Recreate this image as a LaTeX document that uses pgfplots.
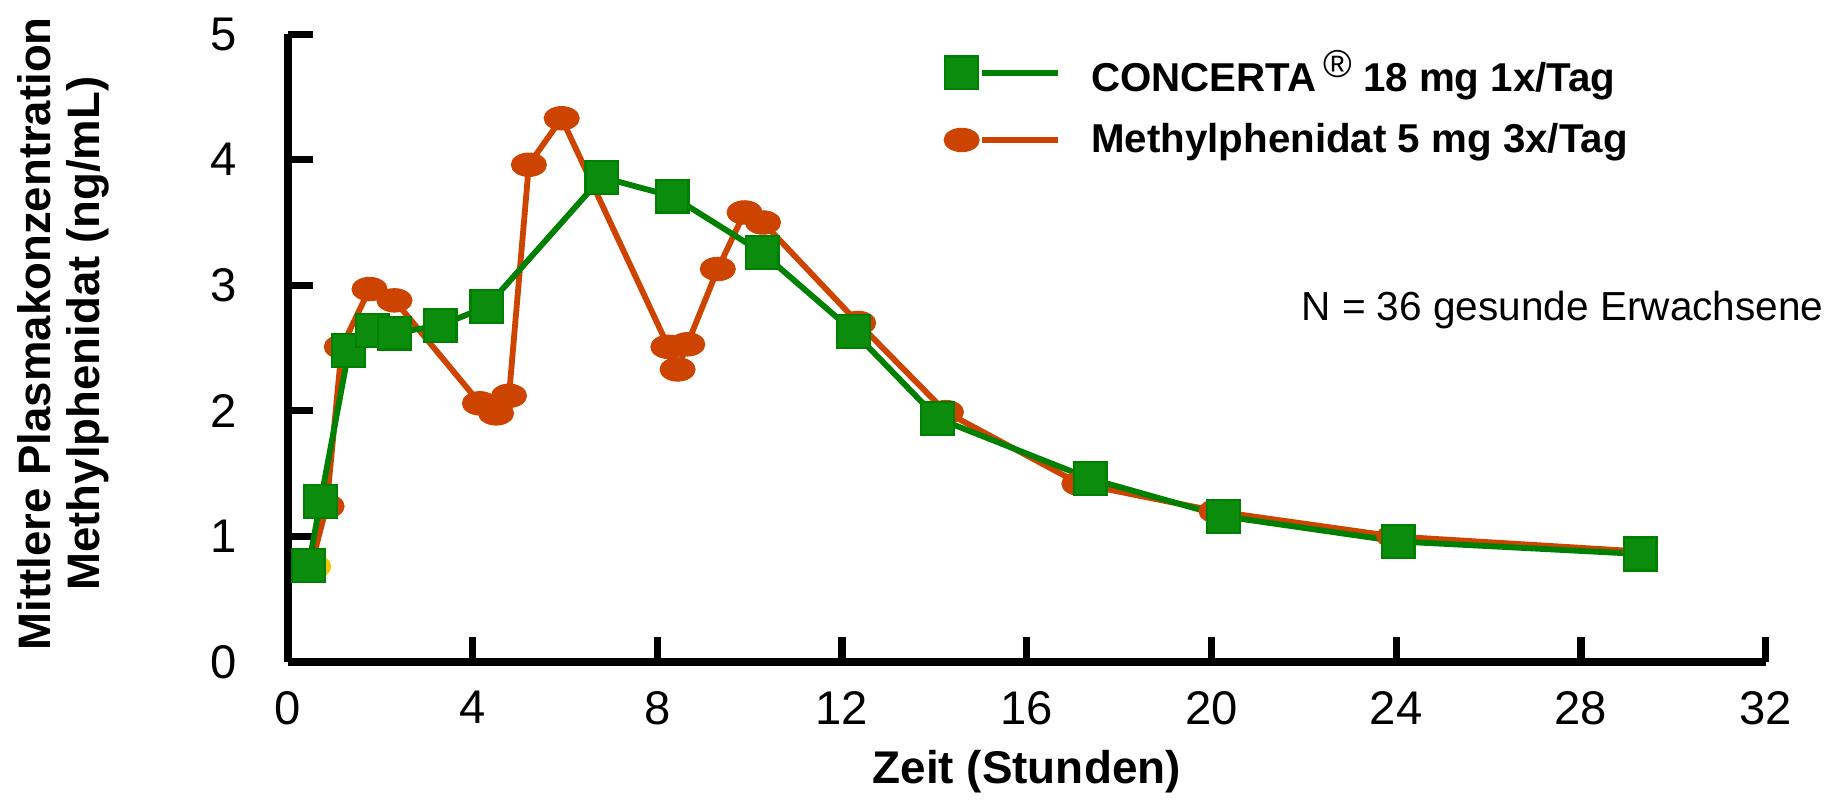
\documentclass[border=0pt]{standalone}
\usepackage{fontspec}
\setmainfont{Liberation Sans}
\usepackage{pgfplots}
\pgfplotsset{compat=1.18}
\definecolor{cgreen}{RGB}{0,128,0}
\definecolor{cgreenfill}{RGB}{12,140,12}
\definecolor{corange}{RGB}{204,68,0}
\definecolor{cyellow}{RGB}{245,196,0}

\begin{document}
\begin{tikzpicture}
\useasboundingbox (-103.6pt,-50.5pt) rectangle (556.6pt,238.3pt);
\begin{axis}[
  scale only axis, width=532pt, height=226pt,
  xmin=0, xmax=32, ymin=0, ymax=5,
  clip=false,
  axis x line=bottom, axis y line=left,
  axis line style={line width=2.8pt,-},
  xtick={0,4,...,32}, ytick={0,1,...,5},
  tick align=inside,
  major tick length=9pt,
  every tick/.style={line width=2.6pt, black},
  ticklabel style={font=\fontsize{17}{17}\selectfont},
  /pgf/number format/assume math mode=true,
  xticklabel style={yshift=-7pt},
  yticklabel style={xshift=-15pt},
  xlabel={Zeit (Stunden)},
  xlabel style={font=\bfseries\fontsize{16.5}{18}\selectfont, at={(axis description cs:0.5,-0.175)}, anchor=center},
  ylabel={Mittlere Plasmakonzentration\\Methylphenidat (ng/mL)},
  ylabel style={font=\bfseries\fontsize{16.4}{17.7}\selectfont, align=center, at={(axis description cs:-0.152,0.523)}, anchor=center},
  legend style={draw=none, fill=none, at={(axis cs:14.2,4.92)}, anchor=north west, inner sep=0pt,
    font=\bfseries\fontsize{14.5}{16}\selectfont, row sep=6pt,
    /tikz/every odd column/.append style={column sep=9pt}},
  legend cell align=left,
  reverse legend,
  legend image code/.code={
    \draw[#1,mark=none] (7.3pt,0pt) -- (34.6pt,0pt);
    \draw[#1] plot coordinates {(0pt,0pt)};
  },
]
% Methylphenidat 5 mg 3x/Tag
\addplot[corange, line width=2.1pt, mark=*, mark size=4.2pt,
  mark options={solid, fill=corange, draw=corange, line width=0.4pt, xscale=1.5}]
  coordinates {
  (0.5,0.76) (0.84,1.24) (1.17,2.51) (1.77,2.97) (2.31,2.88)
  (4.16,2.06) (4.51,1.98) (4.79,2.12) (5.22,3.96) (5.93,4.33)
  (8.24,2.51) (8.44,2.33) (8.65,2.53) (9.31,3.13) (9.89,3.58)
  (10.29,3.50) (12.35,2.70) (14.25,1.99) (17.14,1.42) (20.11,1.20)
  (23.96,1.00) (29.28,0.88)
};
\addlegendentry{Methylphenidat 5 mg 3x/Tag}
% erster Messpunkt gelb
\addplot[forget plot, only marks, mark=*, mark size=4.2pt,
  mark options={fill=cyellow, draw=cyellow, xscale=1.5}]
  coordinates {(0.55,0.76)};
% CONCERTA 18 mg 1x/Tag
\addplot[cgreen, line width=2.1pt, mark=square*, mark size=5.9pt,
  mark options={solid, fill=cgreenfill, draw=cgreen, line width=0.8pt}]
  coordinates {
  (0.45,0.77) (0.71,1.28) (1.32,2.48) (1.83,2.64) (2.31,2.62)
  (3.30,2.68) (4.31,2.83) (6.80,3.86) (8.32,3.71) (10.27,3.26)
  (12.25,2.63) (14.07,1.94) (17.37,1.46) (20.26,1.16) (24.04,0.96)
  (29.28,0.86)
};
\addlegendentry{CONCERTA\,\raisebox{5pt}{\fontsize{14}{14}\selectfont\mdseries ®} 18 mg 1x/Tag}
\node[font=\fontsize{14.6}{16}\selectfont] at (axis cs:27.6,2.80) {N = 36 gesunde Erwachsene};
\end{axis}
\end{tikzpicture}
\end{document}
